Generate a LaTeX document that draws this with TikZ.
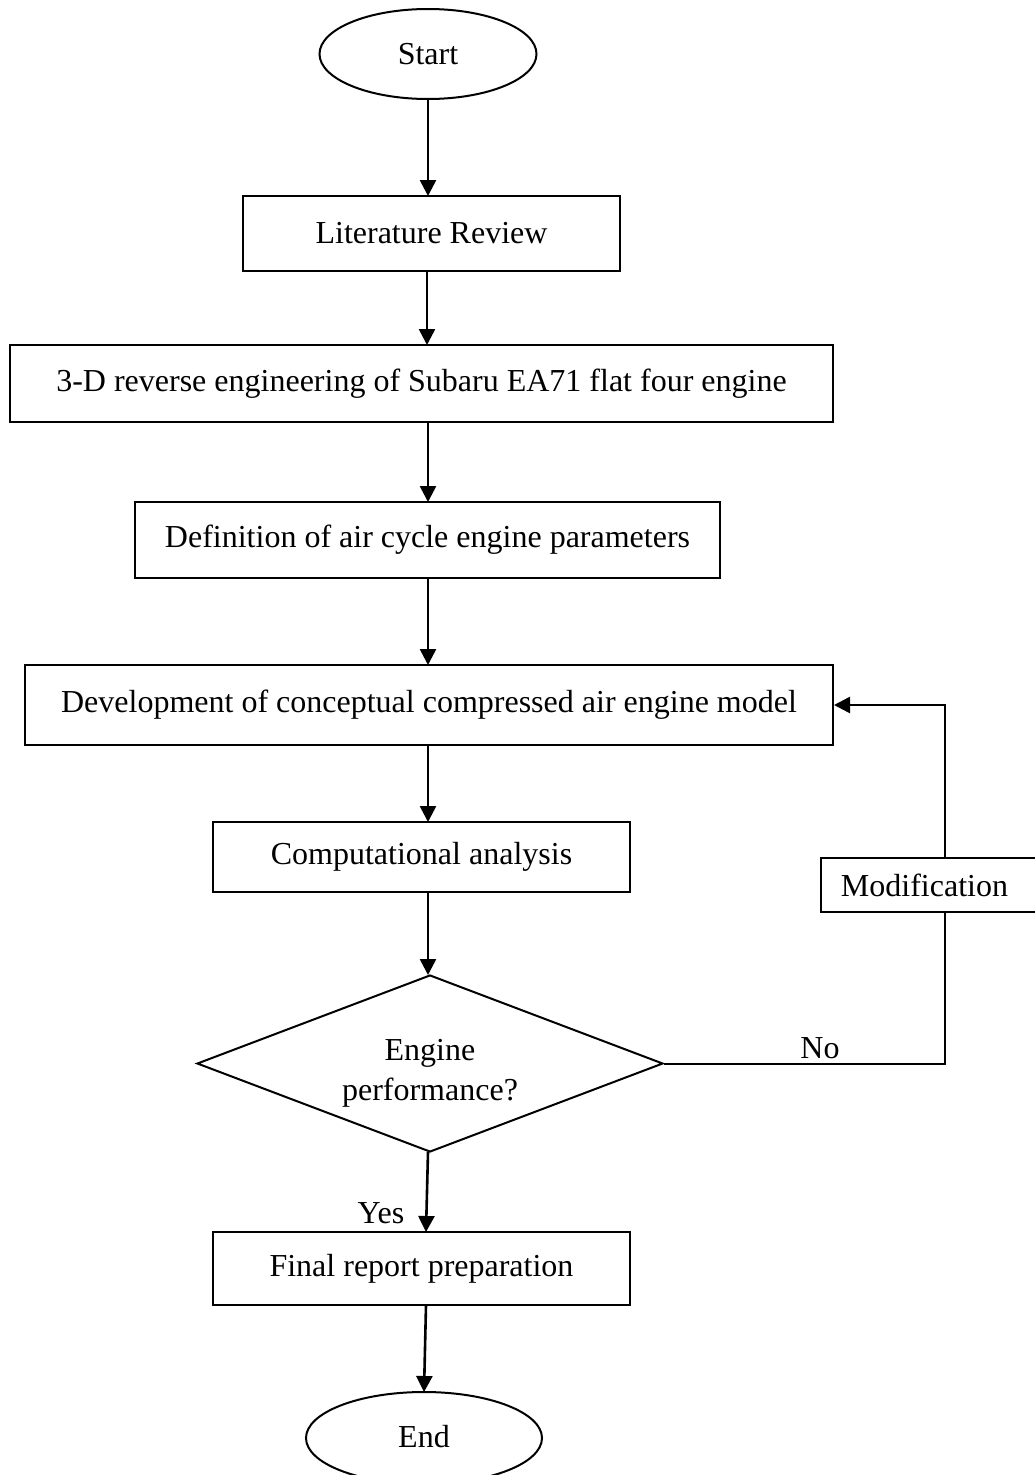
\documentclass[tikz,border=0pt]{standalone}
\usepackage{fontspec}
\setmainfont{Liberation Serif}
\usetikzlibrary{shapes.geometric,arrows.meta}
\begin{document}
\begin{tikzpicture}[x=1pt,y=-1pt,
  every node/.style={font=\fontsize{32}{40}\selectfont, inner sep=0pt},
  procbox/.style={draw, line width=2pt, rectangle},
  termbox/.style={draw, line width=2pt, ellipse},
  decbox/.style={draw, line width=2pt, diamond, aspect=2.63},
  flow/.style={line width=2.6pt, -{Triangle[length=16pt,width=16pt]}},
  plain/.style={line width=2pt}]
\clip (0,0) rectangle (1035,1475);
\fill[white] (0,0) rectangle (1035,1475);

% terminals
\node[termbox, minimum width=217, minimum height=90] (start) at (428,54) {Start};
\node[termbox, minimum width=236, minimum height=92] (stop) at (424,1438) {\raisebox{4pt}{End}};

% process steps
\node[procbox, minimum width=377, minimum height=75] (lit) at (431.5,233.5) {Literature Review};
\node[procbox, minimum width=823, minimum height=77] (rev) at (421.5,383.5) {3-D reverse engineering of Subaru EA71 flat four engine};
\node[procbox, minimum width=585, minimum height=76] (defn) at (427.5,540) {Definition of air cycle engine parameters};
\node[procbox, minimum width=808, minimum height=80] (dev) at (429,705) {Development of conceptual compressed air engine model};
\node[procbox, minimum width=417, minimum height=70] (comp) at (421.5,857) {Computational analysis};
\node[procbox, minimum width=417, minimum height=73] (fin) at (421.5,1268.5) {Final report preparation};
\node[procbox, minimum width=232, minimum height=54, text depth=0pt] (mod) at (937,885) {\hspace*{-25pt}Modification};

% decision
\node[decbox, minimum width=466, minimum height=177] (perf) at (430,1063.5)
  {\raisebox{-15pt}[0pt][0pt]{\begin{tabular}{@{}c@{}}Engine\\[0pt] performance?\end{tabular}}};

% main flow
\draw[flow] (428,100) -- (428,196);
\draw[flow] (427,271) -- (427,345);
\draw[flow] (428,422) -- (428,502);
\draw[flow] (428,578) -- (428,665);
\draw[flow] (428,745) -- (428,822);
\draw[flow] (428,892) -- (428,975);
\draw[flow] (428,1152) -- (426,1232);
\draw[flow] (426,1305) -- (424,1392);
\node (yes) at (381,1213) {Yes};

% modification loop
\coordinate (turn) at (945,1063.5);
\draw[plain] (perf.east) -- (turn) -- (turn |- mod.south);
\draw[flow] (turn |- mod.north) -- (turn |- dev.east) -- (dev.east);
\node (no) at (820,1048) {No};
\end{tikzpicture}
\end{document}
